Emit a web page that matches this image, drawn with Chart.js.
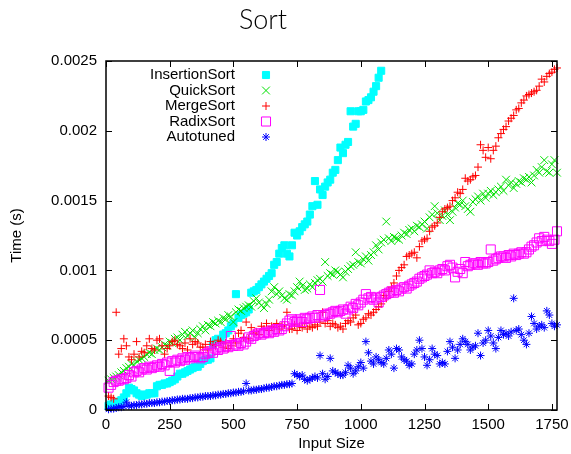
<!DOCTYPE html>
<html>
<head>
<meta charset="utf-8">
<title>Sort</title>
<script src="https://cdn.jsdelivr.net/npm/chart.js@4.4.0/dist/chart.umd.min.js"></script>
<style>
  html, body { margin: 0; padding: 0; background: #fff; }
  #chart { display: block; }
</style>
</head>
<body>
<canvas id="chart" width="571" height="454"></canvas>
<script>
// input sizes (x)
const sizes = [
  10, 20, 30, 40, 50, 60, 70, 80, 90, 100,
  110, 120, 130, 140, 150, 160, 170, 180, 190, 200,
  210, 220, 230, 240, 250, 260, 270, 280, 290, 300,
  310, 320, 330, 340, 350, 360, 370, 380, 390, 400,
  410, 420, 430, 440, 450, 460, 470, 480, 490, 500,
  510, 520, 530, 540, 550, 560, 570, 580, 590, 600,
  610, 620, 630, 640, 650, 660, 670, 680, 690, 700,
  710, 720, 730, 740, 750, 760, 770, 780, 790, 800,
  810, 820, 830, 840, 850, 860, 870, 880, 890, 900,
  910, 920, 930, 940, 950, 960, 970, 980, 990, 1000,
  1010, 1020, 1030, 1040, 1050, 1060, 1070, 1080, 1090, 1100,
  1110, 1120, 1130, 1140, 1150, 1160, 1170, 1180, 1190, 1200,
  1210, 1220, 1230, 1240, 1250, 1260, 1270, 1280, 1290, 1300,
  1310, 1320, 1330, 1340, 1350, 1360, 1370, 1380, 1390, 1400,
  1410, 1420, 1430, 1440, 1450, 1460, 1470, 1480, 1490, 1500,
  1510, 1520, 1530, 1540, 1550, 1560, 1570, 1580, 1590, 1600,
  1610, 1620, 1630, 1640, 1650, 1660, 1670, 1680, 1690, 1700,
  1710, 1720, 1730, 1740, 1750, 1760, 1770
];

// times in seconds; insertion sort leaves the plot after ~1080
const insertionSort = [
  3e-5, 4e-5, 4e-5, 5e-5, 6e-5, 7e-5, 9e-5, 12e-5, 16e-5, 15e-5,
  14e-5, 12e-5, 11e-5, 10e-5, 11e-5, 11e-5, 12e-5, 12e-5, 12e-5, 17e-5,
  18e-5, 18e-5, 19e-5, 19e-5, 20e-5, 21e-5, 22e-5, 24e-5, 26e-5, 26e-5,
  27e-5, 28e-5, 29e-5, 30e-5, 31e-5, 31e-5, 33e-5, 35e-5, 36e-5, 36e-5,
  37e-5, 47e-5, 50e-5, 51e-5, 50e-5, 54e-5, 55e-5, 57e-5, 60e-5, 62e-5,
  83e-5, 66e-5, 68e-5, 69e-5, 70e-5, 72e-5, 84e-5, 85e-5, 86e-5, 88e-5,
  90e-5, 92e-5, 94e-5, 96e-5, 98e-5, 104e-5, 106e-5, 112e-5, 116e-5, 118e-5,
  112e-5, 110e-5, 118e-5, 127e-5, 125e-5, 128e-5, 131e-5, 133e-5, 135e-5, 140e-5,
  146e-5, 164e-5, 147e-5, 158e-5, 154e-5, 160e-5, 163e-5, 165e-5, 170e-5, 172e-5,
  179e-5, 188e-5, 184e-5, 190e-5, 192e-5, 214e-5, 203e-5, 205e-5, 214e-5, 214e-5,
  215e-5, 221e-5, 222e-5, 224e-5, 228e-5, 232e-5, 238e-5, 243e-5
];

const quickSort = [
  21e-5, 22e-5, 23e-5, 24e-5, 25e-5, 27e-5, 28e-5, 30e-5, 31e-5, 33e-5,
  32e-5, 35e-5, 36e-5, 37e-5, 38e-5, 40e-5, 41e-5, 40e-5, 43e-5, 44e-5,
  43e-5, 45e-5, 47e-5, 46e-5, 49e-5, 48e-5, 51e-5, 52e-5, 50e-5, 54e-5,
  56e-5, 53e-5, 55e-5, 57e-5, 52e-5, 55e-5, 58e-5, 60e-5, 57e-5, 61e-5,
  60e-5, 63e-5, 62e-5, 64e-5, 63e-5, 66e-5, 65e-5, 68e-5, 67e-5, 63e-5,
  70e-5, 72e-5, 71e-5, 73e-5, 74e-5, 75e-5, 74e-5, 78e-5, 80e-5, 77e-5,
  75e-5, 73e-5, 76e-5, 79e-5, 85e-5, 88e-5, 83e-5, 85e-5, 82e-5, 80e-5,
  79e-5, 83e-5, 82e-5, 85e-5, 88e-5, 92e-5, 89e-5, 86e-5, 87e-5, 90e-5,
  88e-5, 91e-5, 93e-5, 94e-5, 92e-5, 106e-5, 96e-5, 98e-5, 97e-5, 100e-5,
  99e-5, 97e-5, 95e-5, 99e-5, 101e-5, 103e-5, 104e-5, 113e-5, 106e-5, 105e-5,
  108e-5, 110e-5, 107e-5, 111e-5, 113e-5, 118e-5, 115e-5, 120e-5, 122e-5, 135e-5,
  123e-5, 121e-5, 124e-5, 123e-5, 122e-5, 125e-5, 127e-5, 126e-5, 129e-5, 130e-5,
  128e-5, 132e-5, 131e-5, 133e-5, 135e-5, 130e-5, 138e-5, 140e-5, 146e-5, 141e-5,
  136e-5, 139e-5, 143e-5, 140e-5, 136e-5, 142e-5, 145e-5, 148e-5, 147e-5, 150e-5,
  146e-5, 144e-5, 142e-5, 149e-5, 151e-5, 153e-5, 150e-5, 155e-5, 152e-5, 155e-5,
  157e-5, 154e-5, 156e-5, 158e-5, 160e-5, 157e-5, 165e-5, 161e-5, 163e-5, 159e-5,
  162e-5, 164e-5, 163e-5, 166e-5, 165e-5, 167e-5, 163e-5, 168e-5, 172e-5, 170e-5,
  174e-5, 179e-5, 171e-5, 170e-5, 176e-5, 179e-5, 170e-5
];

const mergeSort = [
  10e-5, 9e-5, 8e-5, 70e-5, 40e-5, 44e-5, 51e-5, 46e-5, 38e-5, 36e-5,
  40e-5, 49e-5, 38e-5, 42e-5, 41e-5, 46e-5, 51e-5, 44e-5, 43e-5, 50e-5,
  51e-5, 46e-5, 40e-5, 44e-5, 46e-5, 49e-5, 50e-5, 47e-5, 46e-5, 44e-5,
  48e-5, 43e-5, 51e-5, 47e-5, 49e-5, 48e-5, 45e-5, 45e-5, 47e-5, 43e-5,
  49e-5, 47e-5, 46e-5, 50e-5, 49e-5, 45e-5, 48e-5, 44e-5, 46e-5, 51e-5,
  48e-5, 55e-5, 57e-5, 52e-5, 63e-5, 51e-5, 59e-5, 55e-5, 56e-5, 54e-5,
  60e-5, 58e-5, 62e-5, 57e-5, 60e-5, 59e-5, 62e-5, 58e-5, 60e-5, 61e-5,
  70e-5, 58e-5, 58e-5, 61e-5, 57e-5, 60e-5, 59e-5, 62e-5, 58e-5, 60e-5,
  59e-5, 61e-5, 60e-5, 63e-5, 70e-5, 62e-5, 64e-5, 60e-5, 62e-5, 61e-5,
  59e-5, 60e-5, 58e-5, 62e-5, 64e-5, 63e-5, 66e-5, 68e-5, 61e-5, 62e-5,
  65e-5, 66e-5, 69e-5, 68e-5, 70e-5, 72e-5, 74e-5, 76e-5, 82e-5, 80e-5,
  85e-5, 88e-5, 91e-5, 96e-5, 100e-5, 102e-5, 104e-5, 110e-5, 111e-5, 112e-5,
  113e-5, 109e-5, 117e-5, 121e-5, 122e-5, 123e-5, 128e-5, 131e-5, 132e-5, 134e-5,
  138e-5, 142e-5, 144e-5, 145e-5, 146e-5, 150e-5, 152e-5, 156e-5, 155e-5, 158e-5,
  166e-5, 164e-5, 165e-5, 167e-5, 168e-5, 174e-5, 190e-5, 186e-5, 181e-5, 188e-5,
  180e-5, 186e-5, 189e-5, 195e-5, 198e-5, 201e-5, 203e-5, 207e-5, 209e-5, 211e-5,
  215e-5, 216e-5, 220e-5, 222e-5, 225e-5, 226e-5, 227e-5, 228e-5, 229e-5, 232e-5,
  237e-5, 235e-5, 239e-5, 241e-5, 242e-5, 244e-5, 245e-5
];

const radixSort = [
  16e-5, 18e-5, 20e-5, 21e-5, 21e-5, 22e-5, 22e-5, 23e-5, 25e-5, 24e-5,
  27e-5, 28e-5, 27e-5, 29e-5, 30e-5, 29e-5, 31e-5, 30e-5, 31e-5, 32e-5,
  31e-5, 33e-5, 32e-5, 34e-5, 28e-5, 35e-5, 34e-5, 36e-5, 35e-5, 37e-5,
  36e-5, 38e-5, 37e-5, 38e-5, 39e-5, 38e-5, 37e-5, 38e-5, 40e-5, 41e-5,
  42e-5, 41e-5, 44e-5, 43e-5, 45e-5, 44e-5, 46e-5, 45e-5, 53e-5, 46e-5,
  47e-5, 46e-5, 48e-5, 47e-5, 49e-5, 52e-5, 51e-5, 53e-5, 54e-5, 55e-5,
  54e-5, 55e-5, 56e-5, 55e-5, 57e-5, 56e-5, 58e-5, 57e-5, 58e-5, 60e-5,
  62e-5, 64e-5, 65e-5, 63e-5, 64e-5, 65e-5, 63e-5, 66e-5, 65e-5, 66e-5,
  67e-5, 66e-5, 68e-5, 86e-5, 67e-5, 68e-5, 69e-5, 69e-5, 70e-5, 71e-5,
  70e-5, 71e-5, 72e-5, 69e-5, 72e-5, 74e-5, 73e-5, 76e-5, 75e-5, 77e-5,
  79e-5, 83e-5, 80e-5, 81e-5, 79e-5, 80e-5, 77e-5, 81e-5, 82e-5, 83e-5,
  84e-5, 85e-5, 84e-5, 86e-5, 85e-5, 87e-5, 88e-5, 87e-5, 89e-5, 90e-5,
  91e-5, 92e-5, 94e-5, 95e-5, 96e-5, 97e-5, 100e-5, 98e-5, 99e-5, 98e-5,
  100e-5, 101e-5, 100e-5, 103e-5, 104e-5, 102e-5, 95e-5, 99e-5, 101e-5, 98e-5,
  106e-5, 103e-5, 104e-5, 105e-5, 105e-5, 104e-5, 106e-5, 105e-5, 105e-5, 106e-5,
  115e-5, 107e-5, 108e-5, 109e-5, 110e-5, 110e-5, 109e-5, 111e-5, 110e-5, 112e-5,
  111e-5, 112e-5, 113e-5, 112e-5, 113e-5, 115e-5, 117e-5, 118e-5, 120e-5, 123e-5,
  121e-5, 124e-5, 122e-5, 121e-5, 119e-5, 122e-5, 128e-5
];

const autotuned = [
  0.5e-5, 1e-5, 1e-5, 1.5e-5, 2e-5, 2e-5, 2.5e-5, 5.6e-5, 3e-5, 3e-5,
  3.5e-5, 3.5e-5, 4e-5, 4e-5, 4.5e-5, 4.5e-5, 5e-5, 5e-5, 5e-5, 5.5e-5,
  5.5e-5, 6e-5, 6e-5, 6.5e-5, 6.5e-5, 7e-5, 7e-5, 7.5e-5, 7.5e-5, 8e-5,
  8e-5, 8e-5, 8.5e-5, 8.5e-5, 9e-5, 9e-5, 9.5e-5, 9.5e-5, 10e-5, 10e-5,
  10e-5, 10.5e-5, 10.5e-5, 11e-5, 11e-5, 11.5e-5, 11.5e-5, 12e-5, 12e-5, 12.5e-5,
  12.5e-5, 13e-5, 13e-5, 13.5e-5, 19e-5, 14e-5, 14e-5, 14.5e-5, 14.5e-5, 15e-5,
  15e-5, 15.5e-5, 16e-5, 16e-5, 16.5e-5, 17e-5, 17e-5, 17.5e-5, 18e-5, 18e-5,
  18.5e-5, 18.5e-5, 19e-5, 26e-5, 25e-5, 24e-5, 25e-5, 22e-5, 21e-5, 22e-5,
  23e-5, 24e-5, 23e-5, 39e-5, 26e-5, 22e-5, 24e-5, 37e-5, 28e-5, 27e-5,
  26e-5, 25e-5, 25e-5, 27e-5, 32e-5, 30e-5, 26e-5, 28e-5, 31e-5, 34e-5,
  30e-5, 49e-5, 41e-5, 35e-5, 33e-5, 38e-5, 36e-5, 34e-5, 33e-5, 37e-5,
  43e-5, 40e-5, 30e-5, 44e-5, 43e-5, 38e-5, 36e-5, 35e-5, 32e-5, 33e-5,
  40e-5, 43e-5, 50e-5, 44e-5, 38e-5, 32e-5, 36e-5, 44e-5, 40e-5, 39e-5,
  33e-5, 34e-5, 33e-5, 42e-5, 49e-5, 45e-5, 37e-5, 43e-5, 47e-5, 51e-5,
  49e-5, 47e-5, 43e-5, 45e-5, 46e-5, 55e-5, 39e-5, 48e-5, 50e-5, 57e-5,
  53e-5, 48e-5, 44e-5, 52e-5, 57e-5, 54e-5, 55e-5, 53e-5, 56e-5, 80e-5,
  57e-5, 58e-5, 54e-5, 50e-5, 47e-5, 55e-5, 67e-5, 62e-5, 58e-5, 60e-5,
  61e-5, 59e-5, 71e-5, 68e-5, 62e-5, 60e-5, 61e-5
];

const xTicks = [0, 250, 500, 750, 1000, 1250, 1500, 1750];
const yTicks = [0, 0.0005, 0.001, 0.0015, 0.002, 0.0025];
const yTickLabels = ['0', '0.0005', '0.001', '0.0015', '0.002', '0.0025'];

const FONT = 'Liberation Sans, Arial, sans-serif';

function toPoints(values) {
  return values.map((v, i) => ({ x: sizes[i], y: v }));
}

function series(label, values, style, radius, stroke, fill, order) {
  return {
    label: label,
    data: toPoints(values),
    pointStyle: style,
    pointRadius: radius,
    pointBorderColor: stroke,
    pointBackgroundColor: fill,
    pointBorderWidth: 1,
    showLine: false,
    clip: false,
    order: order
  };
}

// gnuplot draws later series on top; chart.js draws higher order first
const datasets = [
  series('InsertionSort', insertionSort, 'rect', 5, '#00ffff', '#00ffff', 4),
  series('QuickSort', quickSort, 'crossRot', 5.5, '#00e000', 'rgba(0,0,0,0)', 3),
  series('MergeSort', mergeSort, 'cross', 4, '#ff0000', 'rgba(0,0,0,0)', 2),
  series('RadixSort', radixSort, 'rect', 6.4, '#ff00ff', 'rgba(0,0,0,0)', 1),
  series('Autotuned', autotuned, 'star', 4, '#0000ff', 'rgba(0,0,0,0)', 0)
];

// frame, inward ticks, title and the gnuplot-like key
const gnuplotFrame = {
  id: 'gnuplotFrame',
  afterDraw(chart) {
    const { ctx, chartArea: a, scales: { x, y } } = chart;
    ctx.save();

    ctx.strokeStyle = '#000';
    ctx.lineWidth = 1.5;
    ctx.strokeRect(a.left, a.top, a.right - a.left, a.bottom - a.top);

    ctx.lineWidth = 1;
    ctx.beginPath();
    xTicks.forEach(v => {
      const px = Math.round(x.getPixelForValue(v)) + 0.5;
      ctx.moveTo(px, a.bottom); ctx.lineTo(px, a.bottom - 6);
      ctx.moveTo(px, a.top); ctx.lineTo(px, a.top + 6);
    });
    yTicks.forEach(v => {
      const py = Math.round(y.getPixelForValue(v)) + 0.5;
      ctx.moveTo(a.left, py); ctx.lineTo(a.left + 6, py);
      ctx.moveTo(a.right, py); ctx.lineTo(a.right - 6, py);
    });
    ctx.stroke();

    ctx.fillStyle = '#000';
    ctx.font = '300 27px Lato, sans-serif';
    ctx.textAlign = 'center';
    ctx.textBaseline = 'middle';
    ctx.fillText('Sort', 263, 20);

    ctx.font = '15px ' + FONT;
    ctx.textAlign = 'right';
    chart.data.datasets.forEach((ds, i) => {
      const ly = a.top + 14 + i * 15.5;
      ctx.fillStyle = '#000';
      ctx.fillText(ds.label, a.left + 129, ly);
      ctx.fillStyle = ds.pointBackgroundColor;
      ctx.strokeStyle = ds.pointBorderColor;
      ctx.lineWidth = ds.pointBorderWidth;
      Chart.helpers.drawPoint(ctx, {
        pointStyle: ds.pointStyle,
        radius: ds.pointRadius,
        borderWidth: ds.pointBorderWidth,
        rotation: 0
      }, a.left + 160, ly);
    });

    ctx.restore();
  }
};

new Chart(document.getElementById('chart'), {
  type: 'scatter',
  data: { datasets: datasets },
  options: {
    responsive: false,
    animation: false,
    devicePixelRatio: 1,
    layout: { padding: { top: 61, right: 14, left: 0, bottom: 0 } },
    plugins: {
      legend: { display: false },
      tooltip: { enabled: false },
      title: { display: false }
    },
    scales: {
      x: {
        type: 'linear',
        min: 0,
        max: 1770,
        afterBuildTicks: s => { s.ticks = xTicks.map(v => ({ value: v })); },
        afterFit: s => { s.height = 44; s.paddingLeft = 0; s.paddingRight = 0; },
        grid: { display: false, drawTicks: false },
        border: { display: false },
        ticks: {
          padding: 6,
          color: '#000',
          maxRotation: 0,
          autoSkip: false,
          font: { family: FONT, size: 15 },
          callback: v => String(v)
        },
        title: {
          display: true,
          text: 'Input Size',
          color: '#000',
          font: { family: FONT, size: 15 },
          padding: { top: 0, bottom: 1 }
        }
      },
      y: {
        type: 'linear',
        min: 0,
        max: 0.0025,
        afterBuildTicks: s => { s.ticks = yTicks.map(v => ({ value: v })); },
        afterFit: s => { s.width = 106; s.paddingTop = 0; s.paddingBottom = 0; },
        grid: { display: false, drawTicks: false },
        border: { display: false },
        ticks: {
          padding: 9,
          color: '#000',
          autoSkip: false,
          font: { family: FONT, size: 15 },
          callback: v => yTickLabels[yTicks.indexOf(v)]
        },
        title: {
          display: true,
          text: 'Time (s)',
          color: '#000',
          font: { family: FONT, size: 15 },
          padding: { top: 8, bottom: 0 }
        }
      }
    }
  },
  plugins: [gnuplotFrame]
});
</script>
</body>
</html>
